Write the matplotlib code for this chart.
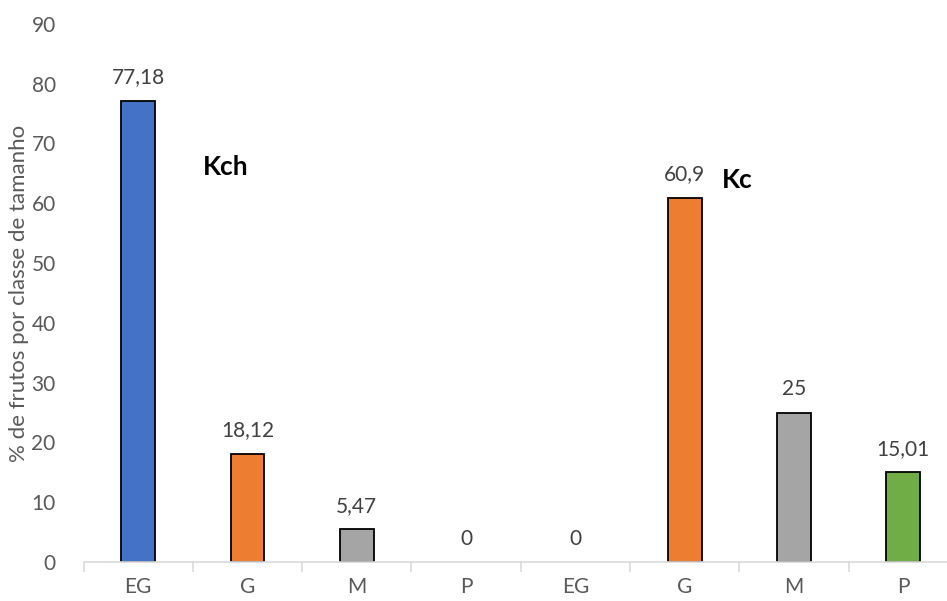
import matplotlib.pyplot as plt
import numpy as np

plt.rcParams['font.family'] = ['Lato', 'DejaVu Sans']

categorias = ['EG', 'G', 'M', 'P', 'EG', 'G', 'M', 'P']
valores = [77.18, 18.12, 5.47, 0, 0, 60.9, 25, 15.01]
rotulos = ['77,18', '18,12', '5,47', '0', '0', '60,9', '25', '15,01']
cores = ['#4472C4', '#ED7D31', '#A5A5A5', '#70AD47',
         '#4472C4', '#ED7D31', '#A5A5A5', '#70AD47']

cinza = '#595959'

fig = plt.figure(figsize=(9.47, 6.01), dpi=100)
ax = fig.add_axes([0.0882, 0.0649, 0.9233, 0.8953])

x = np.arange(len(categorias))
bordas = [1.3 if v > 0 else 0 for v in valores]
bars = ax.bar(x, valores, width=0.31, color=cores, edgecolor='black', linewidth=bordas)
for b, v, r in zip(bars, valores, rotulos):
    ax.text(b.get_x() + b.get_width() / 2, v + 3.9, r, ha='center', va='center',
            fontsize=15, color='#404040')

ax.text(0.80, 66.0, 'Kch', fontsize=19, fontweight='bold', ha='center', va='center')
ax.text(5.48, 63.9, 'Kc', fontsize=19, fontweight='bold', ha='center', va='center')

ax.set_xlim(-0.5, 7.5)
ax.set_ylim(0, 90)
ax.set_yticks(range(0, 91, 10))
ax.set_xticks(x)
ax.set_xticklabels(categorias)
ax.set_xticks(np.arange(-0.5, 8, 1), minor=True)
ax.tick_params(axis='x', which='major', length=0, pad=11, labelsize=15, labelcolor=cinza)
ax.tick_params(axis='x', which='minor', length=7, color='#D9D9D9', width=1.2)
ax.tick_params(axis='y', length=0, pad=20, labelsize=15, labelcolor=cinza)

for s in ['top', 'right', 'left']:
    ax.spines[s].set_visible(False)
ax.spines['bottom'].set_color('#D9D9D9')
ax.spines['bottom'].set_linewidth(1.2)

ax.set_ylabel('% de frutos por classe de tamanho', fontsize=16, color=cinza, labelpad=2)

fig.savefig('out.png', dpi=100)
